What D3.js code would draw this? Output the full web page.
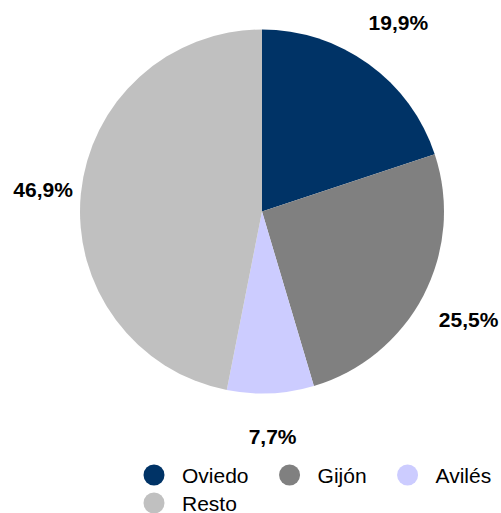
<!DOCTYPE html>
<html>
<head>
<meta charset="utf-8">
<script src="https://cdn.jsdelivr.net/npm/d3@7"></script>
<style>
  html, body { margin: 0; padding: 0; background: #fff; }
  svg { display: block; }
</style>
</head>
<body>
<svg id="chart" width="501" height="513"></svg>
<script>
const categories = ["Oviedo", "Gijón", "Avilés", "Resto"];
const values = [19.9, 25.5, 7.7, 46.9];
const labels = ["19,9%", "25,5%", "7,7%", "46,9%"];
const colors = ["#003366", "#808080", "#CCCCFF", "#C0C0C0"];

const CX = 262;
const CY = 211.5;
const RADIUS = 182;
// distance from centre to each label's middle (labels sit outside the pie)
const LABEL_RADII = [233, 233, 225, 220];
const FONT = "Arial, 'Liberation Sans', sans-serif";

const svg = d3.select("#chart");

const pie = d3.pie().sort(null).value(d => d.value);
const arc = d3.arc().innerRadius(0).outerRadius(RADIUS);

const data = categories.map((c, i) => ({ name: c, value: values[i], label: labels[i], color: colors[i] }));
const arcs = pie(data);

const g = svg.append("g").attr("transform", `translate(${CX},${CY})`);

g.selectAll("path")
  .data(arcs)
  .enter()
  .append("path")
  .attr("d", arc)
  .attr("fill", d => d.data.color);

// percent labels outside the slices
g.selectAll("text.pct")
  .data(arcs)
  .enter()
  .append("text")
  .attr("class", "pct")
  .attr("transform", (d, i) => {
    const r = LABEL_RADII[i];
    const [x, y] = d3.arc().innerRadius(r).outerRadius(r).centroid(d);
    return `translate(${x},${y})`;
  })
  .attr("text-anchor", "middle")
  .attr("dy", "0.35em")
  .style("font-family", FONT)
  .style("font-weight", "bold")
  .style("font-size", "21px")
  .style("fill", "#000")
  .text(d => d.data.label);

// legend: items flow left to right, three per row
const LEGEND_X = 154;
const LEGEND_Y = 475;
const LEGEND_ROW = 28;
const LEGEND_GAP = 41;

const legend = svg.selectAll("g.legend")
  .data(data)
  .enter()
  .append("g")
  .attr("class", "legend");

legend.append("circle")
  .attr("r", 10.5)
  .attr("fill", d => d.color);

legend.append("text")
  .attr("x", 28)
  .attr("dy", "0.36em")
  .style("font-family", FONT)
  .style("font-size", "21px")
  .style("fill", "#000")
  .text(d => d.name);

let lx = LEGEND_X;
legend.each(function (d, i) {
  if (i % 3 === 0) lx = LEGEND_X;
  const row = Math.floor(i / 3);
  d3.select(this).attr("transform", `translate(${lx},${LEGEND_Y + row * LEGEND_ROW})`);
  const w = d3.select(this).select("text").node().getComputedTextLength();
  lx += 28 + w + LEGEND_GAP;
});
</script>
</body>
</html>
